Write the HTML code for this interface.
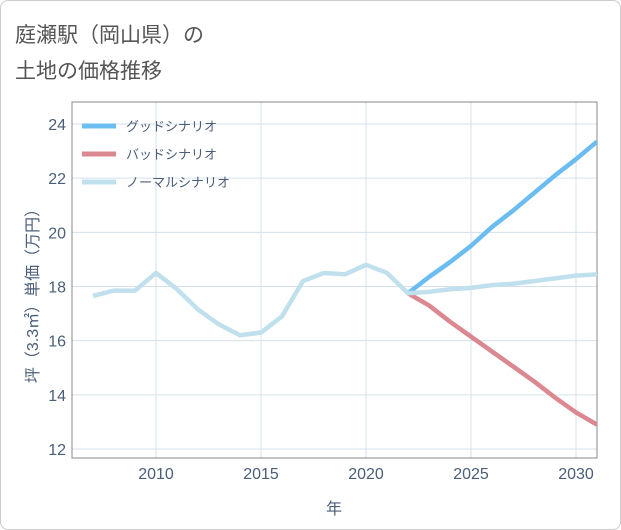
<!DOCTYPE html>
<html><head><meta charset="utf-8"><style>
body{margin:0;background:#fff;}
#wrap{position:relative;width:619px;height:528px;border:1px solid #ccc;border-radius:8px;overflow:hidden;font-family:"Liberation Sans","Noto Sans CJK JP",sans-serif;}
.title{position:absolute;left:14px;font-size:21px;color:#555;}
</style></head><body>
<div id="wrap">
<div class="title" style="top:18px">庭瀬駅（岡山県）の</div>
<div class="title" style="top:54px">土地の価格推移</div>
<svg id="svg" width="621" height="530" style="position:absolute;left:-1px;top:-1px"></svg>
</div>
<script>
const years=[2007,2008,2009,2010,2011,2012,2013,2014,2015,2016,2017,2018,2019,2020,2021,2022,2023,2024,2025,2026,2027,2028,2029,2030,2031];
const normalVals=[17.65,17.85,17.85,18.5,17.9,17.15,16.6,16.2,16.3,16.9,18.2,18.5,18.45,18.8,18.5,17.75,17.8,17.9,17.95,18.05,18.1,18.2,18.3,18.4,18.45];
const futureYears=[2022,2023,2024,2025,2026,2027,2028,2029,2030,2031];
const goodVals=[17.75,18.35,18.9,19.5,20.2,20.8,21.45,22.1,22.7,23.35];
const badVals=[17.75,17.3,16.7,16.15,15.6,15.05,14.5,13.9,13.35,12.9];
const xTicks=[2010,2015,2020,2025,2030];
const yTicks=[12,14,16,18,20,22,24];
const legendLabels=["グッドシナリオ","バッドシナリオ","ノーマルシナリオ"];
const colors=["#6bbcf0","#dc8890","#bfe0ec"];
const TXT='#4a5e78';
const L=72,R=597,T=102,B=458;
const xs=y=>156+(y-2010)*21;
const ys=v=>124+(24-v)*(449-124)/12;
const svg=document.getElementById('svg');
const NS='http://www.w3.org/2000/svg';
function mk(t,a,p){const e=document.createElementNS(NS,t);for(const k in a)e.setAttribute(k,a[k]);(p||svg).appendChild(e);return e;}
mk('rect',{x:L,y:T,width:R-L,height:B-T,fill:'#fff',stroke:'#888','stroke-width':1});
for(const t of xTicks){const l=mk('line',{x1:xs(t),x2:xs(t),y1:T,y2:B,stroke:'#d5e1ea'});

const tx=mk('text',{x:xs(t),y:B+21,'text-anchor':'middle','font-size':16,fill:TXT});tx.textContent=t;
}
for(const t of yTicks){const l=mk('line',{x1:L,x2:R,y1:ys(t),y2:ys(t),stroke:'#d5e1ea'});

const tx=mk('text',{x:L-6,y:ys(t)+6,'text-anchor':'end','font-size':16,fill:TXT});tx.textContent=t;
}
mk('rect',{x:L,y:T,width:R-L,height:B-T,fill:'none',stroke:'#888','stroke-width':1});
const xt=mk('text',{x:334,y:514,'text-anchor':'middle','font-size':16,fill:TXT});xt.textContent='年';

const yt=mk('text',{x:0,y:0,'text-anchor':'middle','font-size':16,fill:TXT,transform:'translate(38,292) rotate(-90)'});yt.textContent='坪（3.3㎡）単価（万円）';

const g=mk('g',{'clip-path':'url(#cp)'});
const cp=mk('clipPath',{id:'cp'});mk('rect',{x:L,y:T,width:R-L,height:B-T},cp);
function line(xv,yv,c,name){const p=mk('polyline',{points:xv.map((x,i)=>xs(x)+','+ys(yv[i])).join(' '),fill:'none',stroke:c,'stroke-width':4.5,'stroke-linejoin':'round'},g);
}
line(futureYears,goodVals,colors[0],'good-scenario-line');
line(futureYears,badVals,colors[1],'bad-scenario-line');
line(years,normalVals,colors[2],'normal-scenario-line');
legendLabels.forEach((s,i)=>{const y=126+i*28;
const l=mk('line',{x1:82,x2:116,y1:y,y2:y,stroke:colors[i],'stroke-width':5});

const t=mk('text',{x:126,y:y+5,'font-size':13,fill:TXT});t.textContent=s;
});
</script>
</body></html>
